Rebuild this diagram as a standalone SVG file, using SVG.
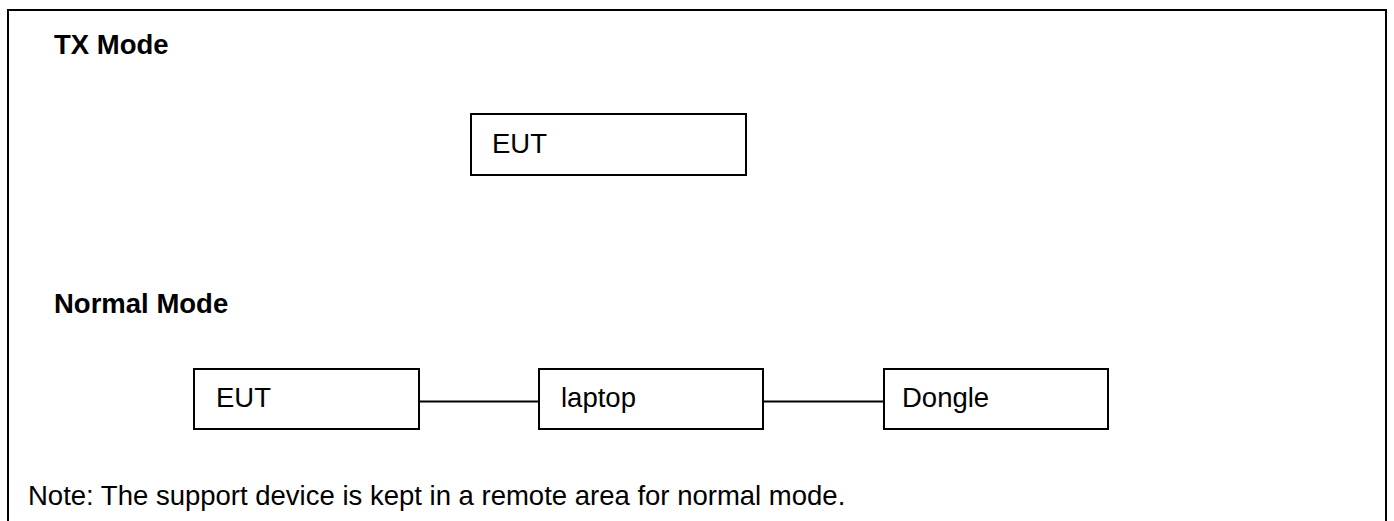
<svg xmlns="http://www.w3.org/2000/svg" width="1394" height="521" viewBox="0 0 1394 521">
<style>
.box{fill:#fff;stroke:#000;stroke-width:2}
.lbl{font-family:"Liberation Sans",Arial,sans-serif;font-size:27.5px;fill:#000}
.hdr{font-family:"Liberation Sans",Arial,sans-serif;font-size:27.5px;font-weight:bold;fill:#000}
.conn{stroke:#000;stroke-width:2;fill:none}
</style>
<rect width="1394" height="521" fill="#fff"/>
<path d="M8 530 V10 H1386 V530" fill="none" stroke="#000" stroke-width="2"/>
<text class="hdr" x="54" y="54">TX Mode</text>
<text class="hdr" x="54" y="313">Normal Mode</text>
<g id="tx-eut"><rect class="box" x="471" y="114" width="275" height="61"/><text class="lbl" x="492" y="153">EUT</text></g>
<g id="connectors">
<line class="conn" x1="419" y1="401.5" x2="539" y2="401.5"/>
<line class="conn" x1="763" y1="401.5" x2="884" y2="401.5"/>
</g>
<g id="eut"><rect class="box" x="194" y="369" width="225" height="60"/><text class="lbl" x="216" y="407">EUT</text></g>
<g id="laptop"><rect class="box" x="539" y="369" width="224" height="60"/><text class="lbl" x="561" y="407">laptop</text></g>
<g id="dongle"><rect class="box" x="884" y="369" width="224" height="60"/><text class="lbl" x="902" y="407">Dongle</text></g>
<text class="lbl" x="28" y="505">Note: The support device is kept in a remote area for normal mode.</text>
</svg>
